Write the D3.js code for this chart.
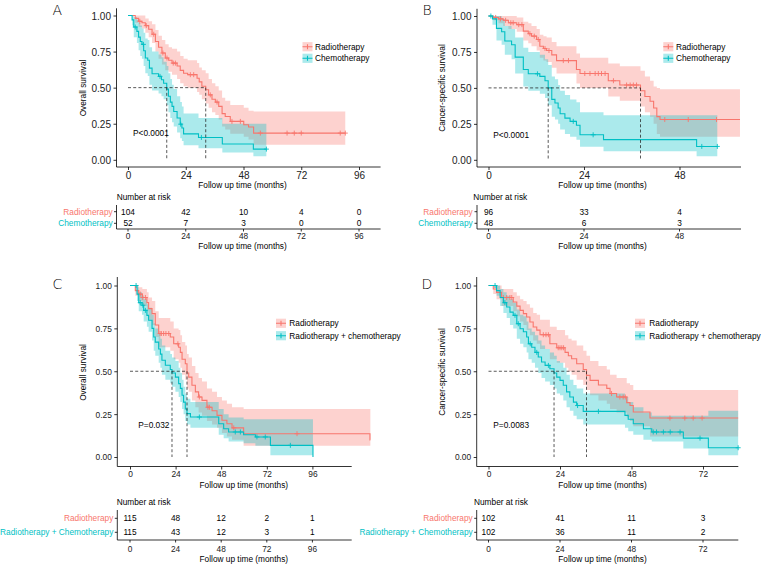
<!DOCTYPE html>
<html><head><meta charset="utf-8">
<script src="https://cdn.jsdelivr.net/npm/d3@7"></script>
<style>
body{margin:0;background:#fff}
svg{display:block}
text{font-family:"Liberation Sans",Arial,Helvetica,sans-serif;fill:#000}
</style>
</head><body>
<svg id="chart" width="764" height="566"></svg>
<script>
// ---------------- DATA ----------------
const yTicks = [0, 0.25, 0.5, 0.75, 1];
const yTickLabels = ["0.00", "0.25", "0.50", "0.75", "1.00"];

// Panel A: Overall survival, Radiotherapy vs Chemotherapy
const A_rad_t  = [0,3,4.4,5.8,7.2,8.6,10,11.4,12.7,14.1,15.5,16.9,18.3,20.4,21.7,23.1,24.8,28.7,29.6,30.7,32.3,33.5,34.9,36.3,37.7,39.1,40.4,42.5,48.1,50.1,52.2];
const A_rad_s  = [1,.98,.96,.95,.93,.905,.87,.82,.78,.74,.705,.69,.67,.65,.62,.60,.59,.565,.54,.51,.485,.45,.42,.40,.37,.32,.30,.266,.243,.227,.185];
const A_rad_hi = [1,1,1,1,.98,.96,.94,.90,.86,.83,.80,.78,.77,.75,.72,.70,.69,.67,.64,.62,.60,.56,.53,.51,.48,.43,.41,.38,.36,.34,.335];
const A_rad_lo = [1,.95,.92,.91,.88,.85,.81,.75,.70,.66,.62,.61,.59,.56,.53,.51,.50,.47,.45,.42,.39,.36,.33,.31,.28,.23,.21,.18,.16,.14,.104];
const A_rad_end = 90.3;
const A_rad_cens = [4.9,7.6,10.7,14.5,16.2,18.8,19.7,25.9,27.3,34.2,37,43.2,46.7,55,66.1,69.1,72,88.2,90.3];

const A_chemo_t  = [0,1.7,2.4,3.7,4.4,5.1,5.8,6.5,7.2,8.2,8.9,10,12.7,13.9,14.8,16.1,16.8,17.6,18.3,19,20.4,21.7,22.4,23.1,29.3,39.2,52.1];
const A_chemo_s  = [1,.97,.92,.89,.85,.82,.80,.756,.705,.69,.635,.596,.578,.555,.53,.49,.44,.40,.37,.335,.29,.247,.22,.18,.155,.11,.074];
const A_chemo_hi = [1,1,.99,.97,.95,.93,.91,.88,.84,.83,.78,.75,.73,.71,.68,.65,.60,.56,.52,.49,.44,.40,.37,.32,.29,.25,.25];
const A_chemo_lo = [1,.93,.85,.81,.76,.72,.70,.65,.60,.58,.52,.48,.46,.44,.42,.38,.33,.29,.26,.23,.19,.15,.13,.10,.08,.05,.025];
const A_chemo_end = 57.5;
const A_chemo_cens = [3,6.4,13.3,21.9,30.5,57.5];

const A_medians = [16.1, 32.3];
const A_times = [0,24,48,72,96];
const A_risk_rad = [104,42,10,4,0];
const A_risk_chemo = [52,7,3,0,0];

// Panel B: Cancer-specific survival, Radiotherapy vs Chemotherapy
const B_rad_t  = [0,1.2,2.5,3.7,5,7.1,8.75,10,10.8,12.1,12.9,13.8,14.6,15.9,17.1,22.1,23,30.1,33,38.2,39.3,40.6,41.5,42.3,43.1];
const B_rad_s  = [1,.99,.98,.97,.953,.94,.895,.877,.86,.837,.79,.774,.76,.73,.69,.628,.60,.55,.52,.48,.44,.407,.36,.30,.28];
const B_rad_hi = [1,1,1,1,1,.99,.96,.95,.93,.91,.87,.86,.85,.82,.79,.74,.71,.67,.65,.62,.58,.55,.51,.50,.49];
const B_rad_lo = [1,.97,.95,.93,.91,.89,.83,.81,.79,.76,.71,.69,.68,.64,.60,.53,.50,.44,.41,.37,.33,.30,.25,.18,.16];
const B_rad_end = 63.2;
const B_rad_cens = [1.8,3,4.3,5.6,6.2,7.6,8.4,10.4,11.5,12.5,14.2,15.2,18.8,20.1,24.2,25.5,26.8,27.6,28.4,29.3,31.4,34.7,35.6,36.4,37.2,44.3,50.2,57.3];

const B_chemo_t  = [0,1,2,3.3,4.1,5.8,6.7,8.75,10,12.9,14.2,15,15.9,16.7,17.5,18,19.2,20.5,22.1,23,28.9,52.3];
const B_chemo_s  = [1,.98,.914,.89,.826,.80,.714,.628,.598,.58,.55,.50,.42,.395,.36,.32,.29,.267,.24,.174,.14,.093];
const B_chemo_hi = [1,1,1,.98,.93,.91,.85,.78,.75,.73,.70,.66,.58,.56,.52,.48,.45,.42,.40,.33,.31,.31];
const B_chemo_lo = [1,.94,.83,.80,.73,.70,.60,.51,.48,.46,.43,.38,.30,.28,.25,.21,.18,.16,.14,.09,.06,.025];
const B_chemo_end = 57.5;
const B_chemo_cens = [0.6,12.3,21.3,26.3,53.6,57.5];

const B_medians = [15, 38.2];
const B_times = [0,24,48];
const B_risk_rad = [96,33,4];
const B_risk_chemo = [48,6,3];

// Panel C: Overall survival, Radiotherapy vs Radiotherapy + chemotherapy
const C_rad_t  = [0,2.8,4.6,6.5,8.9,9.8,11.6,13.3,15.1,21.2,23,25.6,26.5,27.4,29.1,30,30.9,32.6,34.4,36.1,37.9,40.5,43.2,45.8,48.4,51,53.7,59.8,126.3];
const C_rad_s  = [1,.97,.95,.93,.90,.865,.836,.77,.72,.70,.66,.64,.61,.57,.544,.49,.466,.418,.38,.35,.33,.29,.27,.243,.214,.194,.17,.136,.10];
const C_rad_hi = [1,1,.99,.98,.96,.93,.91,.85,.81,.79,.75,.74,.71,.67,.65,.60,.58,.53,.49,.46,.44,.40,.38,.35,.33,.31,.29,.28,.28];
const C_rad_lo = [1,.94,.91,.88,.85,.80,.77,.70,.64,.62,.57,.55,.52,.48,.45,.40,.38,.33,.29,.26,.24,.21,.19,.17,.14,.12,.10,.065,.065];
const C_rad_end = 126.5;
const C_rad_cens = [5.4,6.7,8.1,15.8,16.5,17.7,18.9,20.4,25.2,36.5,41,41.8,54.6,87.9];

const C_chemo_t  = [0,3.7,4.6,6.3,7.2,8.9,9.8,11.6,12.5,13.3,15.1,16,16.8,18.6,21.2,22.1,23.9,25.6,26.5,27.4,28.2,29.1,30,31.8,46.7,49.3,51.9,59.8,66,73.9,96.3];
const C_chemo_s  = [1,.95,.90,.885,.855,.826,.797,.75,.70,.67,.63,.60,.564,.535,.51,.49,.466,.428,.40,.36,.32,.28,.253,.233,.194,.165,.146,.13,.117,.068,0];
const C_chemo_hi = [1,.99,.96,.94,.92,.89,.87,.83,.78,.75,.72,.69,.65,.62,.60,.58,.56,.52,.49,.45,.41,.37,.34,.32,.28,.25,.23,.22,.22,.22,.22];
const C_chemo_lo = [1,.91,.85,.83,.79,.76,.73,.68,.62,.59,.55,.52,.48,.45,.43,.41,.38,.35,.32,.28,.25,.21,.19,.17,.13,.11,.09,.08,.065,.01,.01];
const C_chemo_end = 96.3;
const C_chemo_cens = [3.2,5.4,6.8,8.1,36.5,55.4,58.1,66.8,71.2,84.4];

const C_medians = [22.1, 30];
const C_times = [0,24,48,72,96];
const C_risk_rad = [115,48,12,2,1];
const C_risk_chemo = [115,43,12,3,1];

// Panel D: Cancer-specific survival, Radiotherapy vs Radiotherapy + chemotherapy
const D_rad_t  = [0,1.6,2.7,4.4,8.3,9.5,10.6,11.7,12.8,13.9,15,16.2,17.3,20.6,22.9,25.7,26.8,27.9,29.6,31.8,32.9,34.1,36.9,39.7,40.8,43,46.4,47.5,48.6,54.2];
const D_rad_s  = [1,.98,.96,.93,.904,.88,.855,.836,.816,.787,.758,.74,.713,.66,.637,.61,.59,.573,.544,.51,.476,.447,.42,.40,.37,.35,.317,.30,.262,.227];
const D_rad_hi = [1,1,1,.98,.96,.94,.92,.91,.89,.87,.84,.83,.80,.76,.74,.71,.69,.68,.65,.62,.59,.56,.53,.51,.48,.46,.43,.42,.39,.39];
const D_rad_lo = [1,.95,.92,.88,.85,.82,.79,.77,.74,.71,.68,.66,.63,.57,.55,.52,.50,.48,.45,.42,.39,.36,.33,.31,.28,.26,.23,.21,.18,.12];
const D_rad_end = 83.8;
const D_rad_cens = [5,6.1,7.2,7.8,18.4,19.3,20.1,23.4,24,24.6,25.2,41.3,44.1,45.2,45.9,60.9,65.9,68.7,71.7];

const D_chemo_t  = [0,2.7,3.9,5,6.1,7.2,8.3,9.5,10.6,11.7,12.8,13.4,14.5,15.6,16.7,17.8,19,20.6,22,22.9,24,25.1,26.2,27.3,28.5,29.6,31.8,45.8,46.9,48.6,52,54.8,65.4,73.8];
const D_chemo_s  = [1,.97,.93,.90,.875,.845,.826,.777,.748,.73,.70,.66,.64,.61,.583,.554,.534,.515,.49,.466,.447,.418,.38,.35,.32,.30,.266,.243,.22,.194,.165,.146,.11,.054];
const D_chemo_hi = [1,1,.98,.96,.94,.92,.90,.86,.83,.82,.79,.75,.73,.71,.68,.65,.63,.61,.59,.56,.55,.52,.48,.45,.42,.40,.37,.35,.32,.29,.26,.24,.24,.27];
const D_chemo_lo = [1,.94,.88,.84,.81,.77,.75,.69,.66,.64,.61,.57,.55,.52,.49,.46,.44,.42,.40,.37,.36,.33,.29,.27,.24,.22,.19,.17,.15,.13,.10,.09,.05,.01];
const D_chemo_end = 83.8;
const D_chemo_cens = [2.2,5.5,8.9,10,14,16.2,20.1,29.9,36.9,55.3,56.4,58.7,61,64.3,71,83.8];

const D_medians = [22, 32.9];
const D_times = [0,24,48,72];
const D_risk_rad = [102,41,11,3];
const D_risk_chemo = [102,36,11,2];

const pValues = ["P<0.0001", "P<0.0001", "P=0.032", "P=0.0083"];
const yTitles = ["Overall survival", "Cancer-specific survival", "Overall survival", "Cancer-specific survival"];
const legendNames1 = ["Radiotherapy", "Chemotherapy"];
const legendNames2 = ["Radiotherapy", "Radiotherapy + chemotherapy"];
const riskNames1 = ["Radiotherapy", "Chemotherapy"];
const riskNames2 = ["Radiotherapy", "Radiotherapy + Chemotherapy"];
const xTitle = "Follow up time (months)";

// ---------------- STYLE / LAYOUT ----------------
const RED = "#F8766D", TEAL = "#00BFC4";
const FS = 8.3;

const panels = [
  { letter:"A", lx:52.5, ly:14.5, xr:[128,359], xd:[0,96], yr:[159.8,15.5], ax0:116.5, ax1:380.6, ayT:8.3, ayB:167, tfs:10,
    ytx:83.3, yty:88, xtx:242.5, xty:185, tly:175, lkx:302.5, ltx:315, legY:[46.7,58.3], px:133, py:133,
    rhx:116.7, rhy:196.7, rows:[211.7,223.3], raY:229, raTop:205, rty:236, rtitle:245.7, rlr:112.7,
    rad:[A_rad_t,A_rad_s,A_rad_lo,A_rad_hi,A_rad_end,A_rad_cens],
    chemo:[A_chemo_t,A_chemo_s,A_chemo_lo,A_chemo_hi,A_chemo_end,A_chemo_cens],
    med:A_medians, times:A_times, rr:A_risk_rad, rc:A_risk_chemo, leg:legendNames1, rn:riskNames1 },
  { letter:"B", lx:422.5, ly:14.5, xr:[488.5,679.5], xd:[0,48], yr:[159.8,16], ax0:477, ax1:741, ayT:8.8, ayB:167, tfs:10,
    ytx:441.7, yty:88, xtx:602.5, xty:185, tly:175, lkx:663.3, ltx:676, legY:[46.7,58.3], px:493.3, py:135,
    rhx:473.3, rhy:196.7, rows:[211.7,223.3], raY:229, raTop:205, rty:236, rtitle:245.7, rlr:472.7,
    rad:[B_rad_t,B_rad_s,B_rad_lo,B_rad_hi,B_rad_end,B_rad_cens],
    chemo:[B_chemo_t,B_chemo_s,B_chemo_lo,B_chemo_hi,B_chemo_end,B_chemo_cens],
    med:B_medians, times:B_times, rr:B_risk_rad, rc:B_risk_chemo, leg:legendNames1, rn:riskNames1 },
  { letter:"C", lx:52.5, ly:289, xr:[130,312.4], xd:[0,96], yr:[457,285.5], ax0:117.3, ax1:351.7, ayT:277, ayB:466.5, tfs:8.4,
    ytx:83.3, yty:372.5, xtx:243.8, xty:485, tly:474, lkx:276, ltx:289.3, legY:[323.3,335.7], px:138.3, py:425,
    rhx:116.7, rhy:502.3, rows:[518.3,532.3], raY:540, raTop:510, rty:549, rtitle:559.3, rlr:113.3,
    rad:[C_rad_t,C_rad_s,C_rad_lo,C_rad_hi,C_rad_end,C_rad_cens],
    chemo:[C_chemo_t,C_chemo_s,C_chemo_lo,C_chemo_hi,C_chemo_end,C_chemo_cens],
    med:C_medians, times:C_times, rr:C_risk_rad, rc:C_risk_chemo, leg:legendNames2, rn:riskNames2 },
  { letter:"D", lx:421.5, ly:289, xr:[488.5,703], xd:[0,72], yr:[457,285.5], ax0:476.7, ax1:738.3, ayT:277, ayB:466.5, tfs:8.4,
    ytx:441.7, yty:372, xtx:602.5, xty:485, tly:474, lkx:635, ltx:649.3, legY:[323.3,335.7], px:493.3, py:425,
    rhx:474, rhy:502.3, rows:[518.3,532.3], raY:540, raTop:510, rty:549, rtitle:559.3, rlr:472.7,
    rad:[D_rad_t,D_rad_s,D_rad_lo,D_rad_hi,D_rad_end,D_rad_cens],
    chemo:[D_chemo_t,D_chemo_s,D_chemo_lo,D_chemo_hi,D_chemo_end,D_chemo_cens],
    med:D_medians, times:D_times, rr:D_risk_rad, rc:D_risk_chemo, leg:legendNames2, rn:riskNames2 }
];

const svg = d3.select("#chart");

function txt(g, x, yc, s, fs, anchor, color) {
  return g.append("text").attr("x", x).attr("y", yc + 0.35 * fs)
    .attr("font-size", fs).attr("text-anchor", anchor || "start")
    .style("fill", color || "#000").text(s);
}

function sAt(t, s, time) {
  const i = Math.max(0, d3.bisectRight(t, time) - 1);
  return s[i];
}

panels.forEach((p, pi) => {
  const g = svg.append("g");
  const x = d3.scaleLinear().domain(p.xd).range(p.xr);
  const y = d3.scaleLinear().domain([0, 1]).range(p.yr);

  // panel letter
  g.append("text").attr("x", p.lx).attr("y", p.ly).attr("font-size", 14)
    .style("font-family", "'DejaVu Sans', 'Liberation Sans', sans-serif").style("font-weight", 300).text(p.letter);

  const curves = [[p.rad, RED], [p.chemo, TEAL]];
  const area = d3.area().curve(d3.curveStepAfter).x(d => x(d.t)).y0(d => y(d.lo)).y1(d => y(d.hi));
  const line = d3.line().curve(d3.curveStepAfter).x(d => x(d.t)).y(d => y(d.s));
  const mk = c => {
    const [t, s, lo, hi, end] = c;
    const pts = t.map((ti, i) => ({ t: ti, s: s[i], lo: lo[i], hi: hi[i] }));
    const n = t.length - 1;
    pts.push({ t: end, s: s[n], lo: lo[n], hi: hi[n] });
    return pts;
  };
  // confidence bands
  curves.forEach(([c, col]) => {
    g.append("path").attr("d", area(mk(c))).attr("fill", col).attr("fill-opacity", 0.33).attr("stroke", "none");
  });
  // step lines
  curves.forEach(([c, col]) => {
    g.append("path").attr("d", line(mk(c))).attr("fill", "none").attr("stroke", col).attr("stroke-width", 1.1);
    // censor marks
    const [t, s, , , , cens] = c;
    cens.forEach(ct => {
      const cx = x(ct), cy = y(sAt(t, s, ct));
      g.append("path").attr("d", `M${cx - 2.5},${cy}H${cx + 2.5}M${cx},${cy - 2.5}V${cy + 2.5}`)
        .attr("stroke", col).attr("stroke-width", 0.9).attr("fill", "none");
    });
  });

  // median lines
  const mMax = d3.max(p.med);
  g.append("path").attr("d", `M${x(0)},${y(0.5)}H${x(mMax)}`)
    .attr("stroke", "#222").attr("stroke-width", 0.75).attr("stroke-dasharray", "3,2.2").attr("fill", "none");
  p.med.forEach(m => {
    g.append("path").attr("d", `M${x(m)},${y(0.5)}V${y(0)}`)
      .attr("stroke", "#222").attr("stroke-width", 0.75).attr("stroke-dasharray", "3,2.2").attr("fill", "none");
  });

  // axes
  g.append("path").attr("d", `M${p.ax0},${p.ayT}V${p.ayB}H${p.ax1}`).attr("stroke", "#000").attr("stroke-width", 0.8).attr("fill", "none");
  const xa = g.append("g").attr("transform", `translate(0,${p.ayB})`)
    .call(d3.axisBottom(x).tickValues(p.times).tickSize(3).tickFormat(d3.format("d")));
  xa.select(".domain").remove();
  xa.selectAll(".tick line").attr("stroke", "#000").attr("stroke-width", 0.8);
  xa.selectAll(".tick text").attr("y", (p.tly - p.ayB) + 0.35 * p.tfs).attr("dy", null)
    .attr("font-size", p.tfs).style("font-family", "'Liberation Sans', Arial, sans-serif").style("fill", "#222");

  const ya = g.append("g").attr("transform", `translate(${p.ax0},0)`)
    .call(d3.axisLeft(y).tickValues(yTicks).tickSize(3).tickPadding(2.5).tickFormat((d, i) => yTickLabels[i]));
  ya.select(".domain").remove();
  ya.selectAll(".tick line").attr("stroke", "#000").attr("stroke-width", 0.8);
  ya.selectAll(".tick text").attr("dy", "0.35em").attr("font-size", p.tfs)
    .style("font-family", "'Liberation Sans', Arial, sans-serif").style("fill", "#222");

  // axis titles
  txt(g, p.xtx, p.xty, xTitle, FS, "middle");
  g.append("text").attr("transform", `translate(${p.ytx},${p.yty}) rotate(-90)`)
    .attr("y", 0.35 * FS).attr("font-size", FS).attr("text-anchor", "middle").text(yTitles[pi]);

  // p-value
  txt(g, p.px, p.py, pValues[pi], FS, "start");

  // legend
  [[RED, 0], [TEAL, 1]].forEach(([col, i]) => {
    const ly = p.legY[i];
    g.append("rect").attr("x", p.lkx).attr("y", ly - 4.6).attr("width", 10).attr("height", 9.2)
      .attr("fill", col).attr("fill-opacity", 0.33);
    g.append("path").attr("d", `M${p.lkx},${ly}H${p.lkx + 10}M${p.lkx + 5},${ly - 2.5}V${ly + 2.5}`)
      .attr("stroke", col).attr("stroke-width", 1.1).attr("fill", "none");
    txt(g, p.ltx, ly, p.leg[i], FS, "start");
  });

  // risk table
  txt(g, p.rhx, p.rhy, "Number at risk", FS, "start");
  g.append("path").attr("d", `M${p.ax0},${p.raTop}V${p.raY}H${p.ax1}`).attr("stroke", "#000").attr("stroke-width", 0.8).attr("fill", "none");
  [[p.rr, RED], [p.rc, TEAL]].forEach(([vals, col], i) => {
    const ry = p.rows[i];
    txt(g, p.rlr, ry, p.rn[i], FS, "end", col);
    g.append("path").attr("d", `M${p.ax0 - 2.5},${ry}H${p.ax0}`).attr("stroke", "#000").attr("stroke-width", 0.8);
    vals.forEach((v, k) => txt(g, x(p.times[k]), ry, String(v), FS, "middle"));
  });
  p.times.forEach(t => {
    g.append("path").attr("d", `M${x(t)},${p.raY}V${p.raY + 2.5}`).attr("stroke", "#000").attr("stroke-width", 0.8);
    txt(g, x(t), p.rty, String(t), FS, "middle", "#222");
  });
  txt(g, p.xtx, p.rtitle, xTitle, FS, "middle");
});
</script>
</body></html>
